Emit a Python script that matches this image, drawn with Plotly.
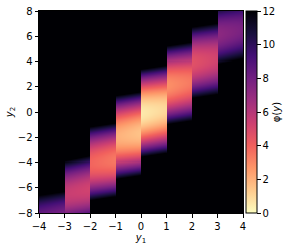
import numpy as np
import plotly.graph_objects as go

# Per-column (y1 interval [k, k+1]) band description
col_left = [-4, -3, -2, -1, 0, 1, 2, 3]
center_left = [-8.6, -6.5, -4.1, -2.0, -0.1, 2.1, 3.9, 6.1]     # band centre in y2 at column's left edge
center_right = [-8.3, -6.1, -3.8, -1.7, 0.2, 2.4, 4.2, 6.5]     # band centre in y2 at column's right edge
half_width = [2.0, 2.6, 2.9, 3.3, 3.5, 3.1, 2.8, 2.3]           # distance from centre where phi reaches 12
phi_min_left = [8.2, 5.5, 3.9, 2.0, 0.5, 2.8, 4.6, 7.2]
phi_min_right = [7.8, 5.2, 3.4, 1.5, 1.0, 3.4, 5.2, 7.8]
phi_edge = 12.0

cbar_ticks = [0, 2, 4, 6, 8, 10, 12]
x_ticks = [-4, -3, -2, -1, 0, 1, 2, 3, 4]
y_ticks = [-8, -6, -4, -2, 0, 2, 4, 6, 8]

# grid of cell centres (no cell straddles an integer y1)
xs = np.arange(-4 + 0.02, 4, 0.04)
ys = np.arange(-8 + 0.04, 8, 0.08)
X, Y = np.meshgrid(xs, ys)
Z = np.full(X.shape, 20.0)
for i, k in enumerate(col_left):
    m = (X >= k) & (X < k + 1)
    t = X[m] - k
    c = center_left[i] + (center_right[i] - center_left[i]) * t
    pm = phi_min_left[i] + (phi_min_right[i] - phi_min_left[i]) * t
    d = (Y[m] - c) / half_width[i]
    Z[m] = pm + (phi_edge - pm) * d ** 2
Z = np.round(np.minimum(Z, 13.0), 3)

font = dict(family="DejaVu Sans", size=10, color="black")

fig = go.Figure(
    go.Heatmap(
        x=xs, y=ys, z=Z,
        colorscale="Magma", reversescale=True,
        zmin=0, zmax=12,
        colorbar=dict(
            x=1.015, xanchor="left", xpad=0,
            y=0.5, yanchor="middle", ypad=0,
            len=1, lenmode="fraction",
            thickness=11,
            outlinewidth=1, outlinecolor="black",
            tickvals=cbar_ticks, ticks="outside", ticklen=3.5, tickcolor="black",
            tickfont=font,
            title=dict(text="φ(<i>y</i>)", side="right", font=font),
        ),
    )
)

fig.update_xaxes(
    range=[-4, 4], tickvals=x_ticks, ticks="outside", ticklen=3.5, tickcolor="black",
    showline=True, mirror=True, linecolor="black", linewidth=1,
    showgrid=False, zeroline=False, tickfont=font, automargin=False,
    title=dict(text="<i>y</i><sub>1</sub>", font=font, standoff=1),
)
fig.update_yaxes(
    range=[-8, 8], tickvals=y_ticks, ticks="outside", ticklen=3.5, tickcolor="black",
    showline=True, mirror=True, linecolor="black", linewidth=1,
    showgrid=False, zeroline=False, tickfont=font, automargin=False,
    title=dict(text="<i>y</i><sub>2</sub>", font=font, standoff=2),
)
fig.update_layout(
    width=295, height=248,
    margin=dict(l=39, r=52, t=11, b=35, autoexpand=False),
    paper_bgcolor="white", plot_bgcolor="black",
    font=font,
)
fig.write_html(
    "out.html",
    config={"displayModeBar": False},
    post_script="document.body.style.margin='0';",
)
